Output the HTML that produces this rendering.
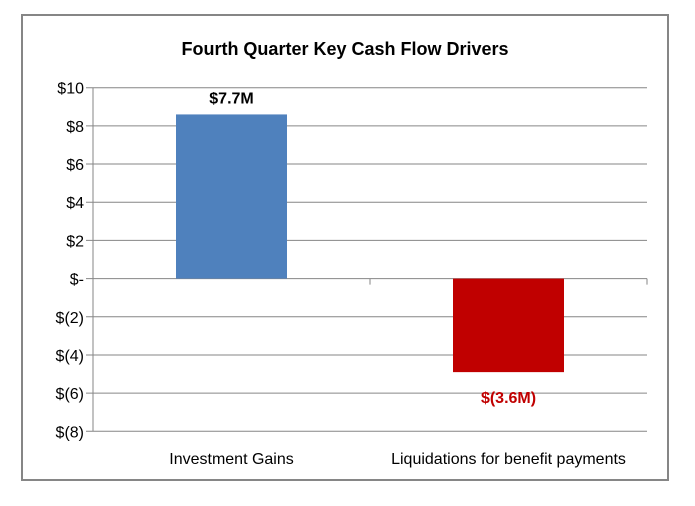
<!DOCTYPE html>
<html><head><meta charset="utf-8"><style>
body{margin:0;background:#fff;}
svg text{font-family:"Liberation Sans",sans-serif;}
</style></head><body>
<svg width="695" height="501" viewBox="0 0 695 501">
<rect x="22" y="15" width="646" height="465" fill="#fff" stroke="#868686" stroke-width="2"/>
<text x="345" y="55" text-anchor="middle" font-size="18" font-weight="bold" fill="#000">Fourth Quarter Key Cash Flow Drivers</text>
<g id="grid"></g><g id="bars"></g><g id="labels"></g>
</svg>
<script>
const categories=["Investment Gains","Liquidations for benefit payments"];
const values=[8.6,-4.9];
const dataLabels=["$7.7M","$(3.6M)"];
const colors=["#4f81bd","#c00000"];
const labelColors=["#000","#c00000"];
const ticks=[10,8,6,4,2,0,-2,-4,-6,-8];
const tickLabels=["$10","$8","$6","$4","$2","$-","$(2)","$(4)","$(6)","$(8)"];
const NS="http://www.w3.org/2000/svg";
const L=93,R=647,T=87.7,B=431.3,ymax=10,ymin=-8;
const y=v=>T+(ymax-v)/(ymax-ymin)*(B-T);
const cw=(R-L)/categories.length;
const xc=i=>L+cw*(i+0.5);
function mk(tag,attrs,parent){const e=document.createElementNS(NS,tag);for(const k in attrs)e.setAttribute(k,attrs[k]);parent.appendChild(e);return e;}
const grid=document.getElementById('grid'),bars=document.getElementById('bars'),labels=document.getElementById('labels');
ticks.forEach((t,i)=>{
  const l=mk('line',{x1:L-7,x2:R,y1:y(t),y2:y(t),stroke:'#868686','stroke-width':1},grid);
  
  
  const tx=mk('text',{x:84,y:y(t)+6,'text-anchor':'end','font-size':16,fill:'#000'},grid);
  tx.textContent=tickLabels[i];
  
  
});
const ax=mk('line',{x1:L,x2:L,y1:T,y2:B,stroke:'#868686','stroke-width':1},grid);


for(let i=1;i<=categories.length;i++){
  const tk=mk('line',{x1:L+cw*i,x2:L+cw*i,y1:y(0),y2:y(0)+6,stroke:'#868686'},grid);
  
  
}
const bw=111;
categories.forEach((c,i)=>{
  const v=values[i];
  const r=mk('rect',{x:xc(i)-bw/2,y:Math.min(y(v),y(0)),width:bw,height:Math.abs(y(v)-y(0)),fill:colors[i]},bars);
  
  
  const ly=v>=0?y(v)-11:y(v)+31;
  const dl=mk('text',{x:xc(i),y:ly,'text-anchor':'middle','font-size':16,'font-weight':'bold',fill:labelColors[i]},labels);
  dl.textContent=dataLabels[i];
  
  
  const cl=mk('text',{x:xc(i),y:464,'text-anchor':'middle','font-size':16,fill:'#000'},labels);
  cl.textContent=c;
  
  
});
</script>
</body></html>
